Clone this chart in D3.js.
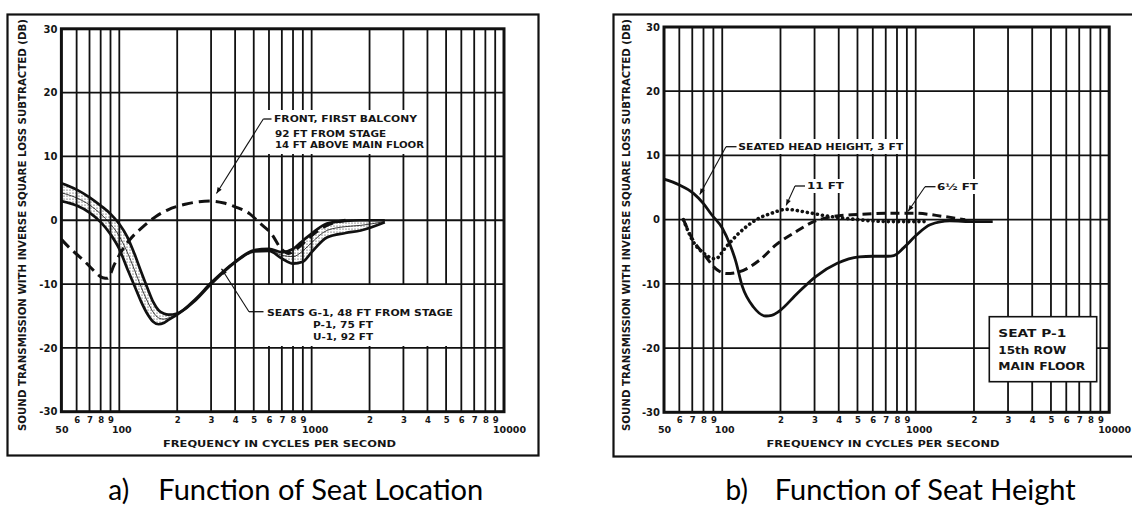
<!DOCTYPE html>
<html>
<head>
<meta charset="utf-8">
<script src="https://cdn.jsdelivr.net/npm/d3@7"></script>
<style>
  body { margin: 0; background: #fff; }
  svg { display: block; }
  .lbl { font-family: "DejaVu Sans Condensed", "DejaVu Sans", sans-serif; font-weight: bold; fill: #151515; }
  .cap { font-family: Lato, "Open Sans", sans-serif; fill: #000; }
</style>
</head>
<body>
<svg id="chart" width="1132" height="508"></svg>
<script>
// ---- data (frequency in Hz, level in dB) ----
const yTicks = [30, 20, 10, 0, -10, -20, -30];
const minorFreqs = [60, 70, 80, 90, 200, 300, 400, 500, 600, 700, 800, 900, 2000, 3000, 4000, 5000, 6000, 7000, 8000, 9000];
const minorLabels = ["6", "7", "8", "9", "2", "3", "4", "5", "6", "7", "8", "9", "2", "3", "4", "5", "6", "7", "8", "9"];
const majorFreqs = [50, 100, 1000, 10000];
const majorLabels = ["50", "100", "1000", "10000"];

// a) seat location
const freqSeats = [50, 60, 70, 80, 90, 100, 110, 120, 130, 140, 150, 160, 170, 180, 200, 250, 300, 400, 500, 600, 700, 800, 900, 1000, 1200, 1500, 1800, 2400];
const seatG1 = [5.8, 4.8, 3.6, 2.3, 1.0, -0.6, -2.6, -5.3, -8.1, -10.6, -12.8, -14.1, -14.6, -14.8, -14.6, -12.3, -9.8, -6.5, -4.7, -4.5, -5.0, -4.5, -3.2, -2.1, -0.5, -0.1, 0, 0];
const seatP1 = [4.3, 3.5, 2.4, 1.0, -0.6, -2.5, -5.0, -7.8, -10.5, -12.7, -14.4, -15.3, -15.5, -15.3, -14.7, -12.4, -9.9, -6.5, -4.8, -4.6, -5.5, -5.7, -4.8, -3.5, -1.6, -1.0, -0.8, -0.2];
const seatU1 = [3.0, 2.3, 1.2, -0.3, -2.2, -4.5, -7.6, -10.3, -12.8, -14.7, -15.9, -16.3, -16.1, -15.6, -14.8, -12.5, -10.0, -6.6, -4.9, -4.8, -6.0, -6.8, -6.5, -5.0, -2.7, -2.0, -1.6, -0.3];
const freqBalcony = [50, 55, 62, 70, 76, 82, 87, 94, 102, 113, 133, 155, 178, 220, 260, 300, 350, 400, 477, 540, 617, 700, 760, 850, 1000, 1200, 1500];
const balcony = [-3.0, -4.3, -5.7, -7.2, -8.3, -9.0, -9.1, -7.0, -5.0, -3.1, -1.0, 0.6, 1.6, 2.5, 2.9, 3.0, 2.7, 2.1, 1.0, -0.5, -2.1, -4.6, -5.2, -4.3, -2.4, -0.8, 0];

// b) seat height
const freqHead = [50, 60, 71, 80, 88, 100, 110, 117, 127, 145, 168, 180, 196, 244, 303, 393, 510, 600, 720, 770, 865, 1009, 1186, 1500, 2000, 2500];
const head3ft = [6.3, 5.4, 4.1, 2.5, 0.8, -1.3, -4.0, -6.3, -10.4, -13.6, -15.0, -14.9, -14.3, -11.5, -8.9, -6.8, -5.8, -5.7, -5.7, -5.6, -4.4, -2.4, -0.8, -0.2, -0.3, -0.3];
const freq11ft = [63, 71, 80, 92, 105, 122, 150, 180, 214, 278, 343, 467, 720, 1110];
const h11ft = [0, -3.5, -5.2, -6.1, -4.2, -2.1, 0, 1.0, 1.6, 1.1, 0.6, 0.1, -0.3, -0.3];
const freq6ft = [63, 71, 80, 94, 105, 123, 156, 190, 234, 297, 376, 500, 720, 983, 1390, 1800];
const h6ft = [0, -3.3, -5.3, -7.8, -8.4, -8.1, -6.3, -3.9, -2.1, -0.3, 0.5, 0.8, 1.0, 1.0, 0.5, 0];

const svg = d3.select("#chart");
const defs = svg.append("defs");
defs.append("pattern").attr("id", "stipple").attr("width", 3).attr("height", 3)
    .attr("patternUnits", "userSpaceOnUse")
  .append("circle").attr("cx", 1).attr("cy", 1).attr("r", 0.6).attr("fill", "#222");
defs.append("marker").attr("id", "arrow").attr("viewBox", "0 0 10 10")
    .attr("refX", 10).attr("refY", 5).attr("markerWidth", 8).attr("markerHeight", 6)
    .attr("markerUnits", "userSpaceOnUse").attr("orient", "auto")
  .append("path").attr("d", "M0,1L10,5L0,9Z").attr("fill", "#111");

function panel(p) {
    const g = svg.append("g");
    const x = d3.scaleLog().domain([50, 10000]).range([p.x0, p.x1]);
    const y = d3.scaleLinear().domain([-30, 30]).range([p.yBot, p.yTop]);

    g.append("rect")
        .attr("x", p.frame[0]).attr("y", p.frame[1])
        .attr("width", p.frame[2] - p.frame[0]).attr("height", p.frame[3] - p.frame[1])
        .attr("fill", "none").attr("stroke", "#111").attr("stroke-width", 2.2);

    // grid
    g.selectAll(".vg").data(x.ticks().filter(f => f > 50 && f < 10000)).join("line")
        .attr("x1", d => x(d)).attr("x2", d => x(d))
        .attr("y1", p.yTop).attr("y2", p.yBot)
        .attr("stroke", "#111").attr("stroke-width", 1.8);
    g.selectAll(".hg").data(yTicks.slice(1, -1)).join("line")
        .attr("x1", p.x0).attr("x2", p.x1)
        .attr("y1", d => y(d)).attr("y2", d => y(d))
        .attr("stroke", "#111").attr("stroke-width", 1.8);

    // y tick labels
    g.append("g").attr("class", "lbl")
        .attr("transform", `translate(${p.x0 - 4},0)`)
        .call(d3.axisLeft(y).tickValues(yTicks).tickSize(0).tickPadding(0).tickFormat(d => String(d)))
        .call(s => s.select(".domain").remove())
        .selectAll("text").attr("font-size", 10).attr("font-weight", "bold")
        .attr("font-family", "DejaVu Sans, sans-serif").attr("fill", "#151515");

    // x tick labels, two rows
    g.append("g").attr("transform", "translate(0,423.3)")
        .call(d3.axisBottom(x).tickValues(minorFreqs).tickSize(0).tickFormat((d, i) => minorLabels[i]))
        .call(s => s.select(".domain").remove())
        .selectAll("text").attr("y", 0).attr("dy", 0).attr("font-size", 8.5).attr("font-weight", "bold")
        .attr("font-family", "DejaVu Sans, sans-serif").attr("fill", "#151515");
    const majorDx = [0, 2, 3, 5];
    g.append("g").attr("transform", "translate(0,433.3)")
        .call(d3.axisBottom(x).tickValues(majorFreqs).tickSize(0).tickFormat((d, i) => majorLabels[i]))
        .call(s => s.select(".domain").remove())
        .selectAll("text").attr("y", 0).attr("dy", 0).attr("dx", (d, i) => majorDx[i])
        .attr("font-size", 9.5).attr("font-weight", "bold")
        .attr("font-family", "DejaVu Sans, sans-serif").attr("fill", "#151515");

    // axis titles
    g.append("text").attr("class", "lbl")
        .attr("transform", `translate(${p.titleX},225) rotate(-90)`)
        .attr("text-anchor", "middle").attr("dy", "0.36em").attr("font-size", 10)
        .attr("textLength", 412).attr("lengthAdjust", "spacingAndGlyphs")
        .text("SOUND TRANSMISSION WITH INVERSE SQUARE LOSS SUBTRACTED (DB)");
    g.append("text").attr("class", "lbl")
        .attr("x", p.axisTitleX - 116.5).attr("y", 446.5).attr("font-size", 9.5)
        .attr("textLength", 233).attr("lengthAdjust", "spacingAndGlyphs")
        .text("FREQUENCY IN CYCLES PER SECOND");

    return { g, x, y };
}

function curve(P, freqs, vals, opts) {
    const line = d3.line().x(d => P.x(d[0])).y(d => P.y(d[1])).curve(d3.curveMonotoneX);
    return P.g.append("path").datum(d3.zip(freqs, vals)).attr("d", line)
        .attr("fill", "none").attr("stroke", "#111")
        .attr("stroke-width", opts.w).attr("stroke-dasharray", opts.dash || null)
        .attr("stroke-linecap", opts.cap || "butt").attr("stroke-linejoin", "round");
}

function whiteBox(P, x, y, w, h) {
    P.g.append("rect").attr("x", x).attr("y", y).attr("width", w).attr("height", h).attr("fill", "#fff");
}

function label(P, x, y, str, len, size) {
    P.g.append("text").attr("class", "lbl").attr("x", x).attr("y", y)
        .attr("font-size", size || 9.5).attr("textLength", len).attr("lengthAdjust", "spacingAndGlyphs")
        .text(str);
}

function leader(P, cx, cy, tickEnd, tx, ty) {
    P.g.append("line").attr("x1", cx).attr("y1", cy).attr("x2", tickEnd).attr("y2", cy)
        .attr("stroke", "#111").attr("stroke-width", 1.3);
    P.g.append("line").attr("x1", cx).attr("y1", cy).attr("x2", tx).attr("y2", ty)
        .attr("stroke", "#111").attr("stroke-width", 1.1).attr("marker-end", "url(#arrow)");
}

function plotBorder(P, p) {
    P.g.append("rect").attr("x", p.x0).attr("y", p.yTop)
        .attr("width", p.x1 - p.x0).attr("height", p.yBot - p.yTop)
        .attr("fill", "none").attr("stroke", "#111").attr("stroke-width", 3);
}

// ---------- panel a ----------
const pa = { x0: 61.4, x1: 504, yBot: 411.7, yTop: 28.8, frame: [7.5, 14.5, 538.5, 455.5], titleX: 22, axisTitleX: 279.5 };
const A = panel(pa);
whiteBox(A, 266, 110, 160, 44);
whiteBox(A, 258, 285, 197, 61);

const band = freqSeats.map((f, i) => ({
    f,
    hi: d3.max([seatG1[i], seatP1[i], seatU1[i]]),
    lo: d3.min([seatG1[i], seatP1[i], seatU1[i]])
}));
A.g.append("path").datum(band)
    .attr("d", d3.area().x(d => A.x(d.f)).y0(d => A.y(d.lo)).y1(d => A.y(d.hi)).curve(d3.curveMonotoneX))
    .attr("fill", "url(#stipple)");
curve(A, freqSeats, seatP1, { w: 0.8 });
curve(A, freqSeats, seatG1, { w: 2.7 });
curve(A, freqSeats, seatU1, { w: 2.7 });
curve(A, freqBalcony, balcony, { w: 3, dash: "11 6" });
plotBorder(A, pa);

label(A, 274, 122.4, "FRONT, FIRST BALCONY", 143);
label(A, 275, 136.7, "92 FT FROM STAGE", 111);
label(A, 275, 148.4, "14 FT ABOVE MAIN FLOOR", 149);
leader(A, 263.3, 119, 271.5, A.x(320), A.y(4.2));

label(A, 267, 316.1, "SEATS G-1, 48 FT FROM STAGE", 186);
label(A, 313, 327.7, "P-1, 75 FT", 60);
label(A, 313, 340.1, "U-1, 92 FT", 60);
leader(A, 249, 311.7, 263.5, A.x(340), A.y(-7.6));

// ---------- panel b ----------
const pb = { x0: 664, x1: 1109.2, yBot: 412.3, yTop: 27, frame: [613.5, 14.5, 1145, 456.5], titleX: 626, axisTitleX: 883 };
const B = panel(pb);
whiteBox(B, 734, 139, 172, 15);
whiteBox(B, 804, 179, 43, 14);
whiteBox(B, 934, 179, 46, 15);

curve(B, freq6ft, h6ft, { w: 3, dash: "9 5" });
curve(B, freq11ft, h11ft, { w: 3.6, dash: "0.1 5", cap: "round" });
curve(B, freqHead, head3ft, { w: 2.8 });
plotBorder(B, pb);

label(B, 738.3, 150.1, "SEATED HEAD HEIGHT, 3 FT", 165);
leader(B, 726, 146.7, 736.5, B.x(76.5), B.y(3.9));
label(B, 807, 189.4, "11 FT", 37);
leader(B, 795, 186, 805, B.x(214), B.y(1.6) - 4);
label(B, 937, 190.1, "6½ FT", 41);
leader(B, 925, 186.7, 935.5, B.x(914), B.y(1.0) - 2);

B.g.append("rect").attr("x", 989.3).attr("y", 316.7).attr("width", 107.4).attr("height", 65)
    .attr("fill", "#fff").attr("stroke", "#111").attr("stroke-width", 1.6);
label(B, 998.3, 337.3, "SEAT P-1", 68, 11);
label(B, 998.3, 354, "15th ROW", 68, 11);
label(B, 998.3, 369.7, "MAIN FLOOR", 87, 11);

// ---------- captions ----------
svg.append("text").attr("class", "cap").attr("x", 108.3).attr("y", 500).attr("font-size", 28).text("a)");
svg.append("text").attr("class", "cap").attr("x", 158.3).attr("y", 500).attr("font-size", 28)
    .attr("textLength", 325).attr("lengthAdjust", "spacingAndGlyphs").text("Function of Seat Location");
svg.append("text").attr("class", "cap").attr("x", 725.6).attr("y", 500).attr("font-size", 28).text("b)");
svg.append("text").attr("class", "cap").attr("x", 774.7).attr("y", 500).attr("font-size", 28)
    .attr("textLength", 301).attr("lengthAdjust", "spacingAndGlyphs").text("Function of Seat Height");
</script>
</body>
</html>
